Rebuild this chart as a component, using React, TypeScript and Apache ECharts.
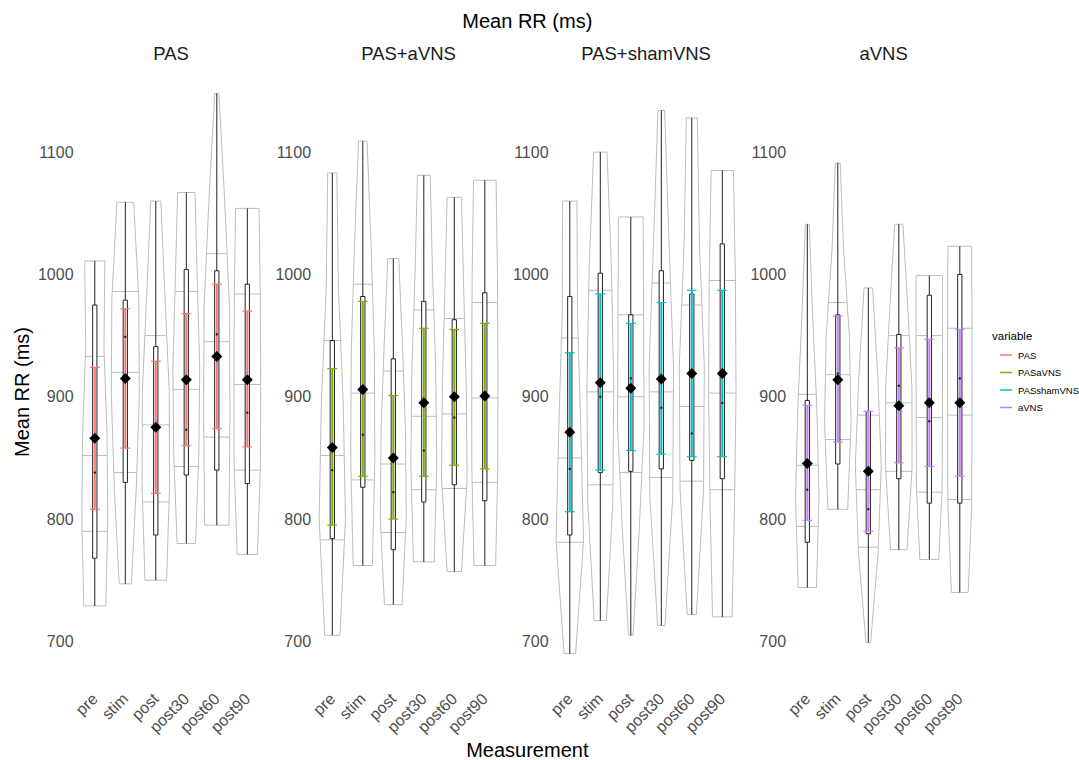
import React, { useEffect, useRef } from "react";
import * as echarts from "echarts";

const categories = ["pre", "stim", "post", "post30", "post60", "post90"];
const groups = ["PAS", "PAS+aVNS", "PAS+shamVNS", "aVNS"];
const legendKeys = ["PAS", "PASaVNS", "PASshamVNS", "aVNS"];
const groupColors = ["#F8766D", "#7CAE00", "#00BFC4", "#C77CFF"];
const yTicks = [700, 800, 900, 1000, 1100];

const violinMin = [
  [729, 747, 750, 780, 795, 771],
  [705, 762, 730, 765, 757, 762],
  [690, 717, 705, 713, 722, 720],
  [744, 808, 699, 775, 767, 740],
];
const violinMax = [
  [1011, 1059, 1060, 1067, 1148, 1054],
  [1083, 1109, 1013, 1081, 1063, 1077],
  [1060, 1100, 1047, 1134, 1128, 1085],
  [1041, 1091, 989, 1041, 999, 1023],
];
// relative violin widths at 5 evenly spaced levels from bottom to top
const violinWidths = [
  [[0.72, 0.85, 0.8, 0.6, 0.66], [0.4, 0.72, 0.92, 0.88, 0.55], [0.71, 0.9, 0.88, 0.6, 0.33], [0.6, 0.82, 0.88, 0.72, 0.57], [0.8, 0.86, 0.84, 0.52, 0.14], [0.66, 0.86, 0.88, 0.85, 0.77]],
  [[0.5, 0.86, 0.72, 0.4, 0.3], [0.63, 0.79, 0.76, 0.55, 0.28], [0.58, 0.85, 0.8, 0.6, 0.36], [0.68, 0.85, 0.78, 0.57, 0.42], [0.47, 0.84, 0.78, 0.62, 0.47], [0.71, 0.85, 0.86, 0.83, 0.74]],
  [[0.38, 0.9, 0.72, 0.5, 0.47], [0.4, 0.82, 0.88, 0.73, 0.44], [0.15, 0.55, 0.87, 0.84, 0.81], [0.24, 0.75, 0.8, 0.5, 0.22], [0.3, 0.77, 0.82, 0.5, 0.36], [0.64, 0.8, 0.9, 0.86, 0.73]],
  [[0.6, 0.77, 0.62, 0.35, 0.13], [0.65, 0.87, 0.76, 0.38, 0.16], [0.15, 0.64, 0.85, 0.62, 0.28], [0.54, 0.87, 0.86, 0.58, 0.27], [0.62, 0.84, 0.86, 0.87, 0.87], [0.55, 0.78, 0.8, 0.8, 0.78]],
];
const violinQuantiles = [
  [[790, 852, 933], [838, 920, 986], [814, 877, 950], [843, 906, 986], [867, 945, 1017], [840, 910, 984]],
  [[783, 852, 946], [832, 903, 992], [789, 845, 921], [824, 884, 971], [825, 886, 964], [830, 899, 977]],
  [[781, 850, 948], [828, 904, 987], [838, 900, 967], [834, 904, 993], [831, 892, 975], [824, 903, 995]],
  [[794, 844, 902], [865, 918, 977], [777, 824, 885], [839, 895, 950], [822, 883, 950], [816, 885, 956]],
];
const boxLow = [
  [768, 830, 787, 836, 840, 829],
  [784, 826, 775, 814, 828, 815],
  [787, 838, 839, 841, 848, 833],
  [781, 845, 788, 833, 813, 813],
];
const boxHigh = [
  [975, 979, 941, 1004, 1003, 992],
  [946, 982, 931, 978, 963, 985],
  [982, 1001, 967, 1003, 984, 1025],
  [897, 967, 888, 951, 983, 1000],
];
const errLow = [
  [808, 858, 821, 860, 874, 859],
  [795, 835, 800, 835, 844, 841],
  [806, 840, 856, 853, 851, 851],
  [799, 863, 790, 846, 843, 835],
];
const errHigh = [
  [924, 972, 929, 968, 992, 970],
  [923, 978, 901, 956, 955, 960],
  [936, 984, 960, 977, 987, 987],
  [893, 966, 888, 940, 947, 955],
];
const meanVals = [
  [866, 915, 875, 914, 933, 914],
  [858.5, 906, 850, 895, 900, 900.7],
  [871, 911.5, 907, 914.5, 919, 919],
  [845.5, 914, 839, 892.6, 895, 895],
];
const medianVals = [
  [838, 949, 876, 873, 951, 887],
  [840, 869, 822, 856, 883, 904],
  [841, 900, 915, 891, 870, 895],
  [824, 919, 808, 909, 880, 915],
];

const FONT = "'Liberation Sans', Arial, Helvetica, sans-serif";
const PANEL_LEFT0 = 76.5;
const PANEL_STEP = 237.5;
const BAND = 30.5;
const GRID_TOP = 66;
const GRID_H = 616;
const Y_MIN = 666.8;
const Y_MAX = 1170.4;

function makeRenderItem(g: number) {
  return (params: any, api: any) => {
    const i = params.dataIndex;
    const cat = api.value(0);
    const vmin = api.value(1);
    const vmax = api.value(2);
    const band = api.size([1, 0])[0];
    const cx = api.coord([cat, vmin])[0];
    const yOf = (v: number) => api.coord([cat, v])[1];
    const widths = violinWidths[g][i];
    const n = widths.length - 1;
    const halfAt = (v: number) => {
      const t = Math.max(0, Math.min(n, ((v - vmin) / (vmax - vmin)) * n));
      const k = Math.min(n - 1, Math.floor(t));
      const f = t - k;
      return ((widths[k] * (1 - f) + widths[k + 1] * f) * band) / 2;
    };
    const right: number[][] = [];
    const left: number[][] = [];
    for (let k = 0; k <= n; k++) {
      const v = vmin + ((vmax - vmin) * k) / n;
      const h = (widths[k] * band) / 2;
      right.push([cx + h, yOf(v)]);
      left.unshift([cx - h, yOf(v)]);
    }
    const grey = "#BDBDBD";
    const children: any[] = [];
    children.push({
      type: "polygon",
      shape: { points: right.concat(left) },
      style: { fill: "rgba(255,255,255,0)", stroke: grey, lineWidth: 1 },
    });
    violinQuantiles[g][i].forEach((q: number) => {
      const h = halfAt(q);
      children.push({
        type: "line",
        shape: { x1: cx - h, y1: yOf(q), x2: cx + h, y2: yOf(q) },
        style: { stroke: grey, lineWidth: 1 },
      });
    });
    children.push({
      type: "line",
      shape: { x1: cx, y1: yOf(vmin), x2: cx, y2: yOf(vmax) },
      style: { stroke: "#222", lineWidth: 1 },
    });
    const bw = band * 0.14;
    const yb1 = yOf(boxHigh[g][i]);
    const yb2 = yOf(boxLow[g][i]);
    children.push({
      type: "rect",
      shape: { x: cx - bw / 2, y: yb1, width: bw, height: yb2 - yb1 },
      style: { fill: "#fff", stroke: "#222", lineWidth: 1 },
    });
    const col = groupColors[g];
    const ye1 = yOf(errHigh[g][i]);
    const ye2 = yOf(errLow[g][i]);
    const cw = band * 0.16;
    children.push({
      type: "line",
      shape: { x1: cx, y1: ye1, x2: cx, y2: ye2 },
      style: { stroke: col, lineWidth: 2 },
    });
    children.push({
      type: "line",
      shape: { x1: cx - cw, y1: ye1, x2: cx + cw, y2: ye1 },
      style: { stroke: col, lineWidth: 1.2 },
    });
    children.push({
      type: "line",
      shape: { x1: cx - cw, y1: ye2, x2: cx + cw, y2: ye2 },
      style: { stroke: col, lineWidth: 1.2 },
    });
    const ym = yOf(medianVals[g][i]);
    children.push({
      type: "rect",
      shape: { x: cx - 1, y: ym - 1, width: 2, height: 2 },
      style: { fill: "#111" },
    });
    const yMean = yOf(meanVals[g][i]);
    const d = 5.5;
    children.push({
      type: "polygon",
      shape: { points: [[cx, yMean - d], [cx + d, yMean], [cx, yMean + d], [cx - d, yMean]] },
      style: { fill: "#000" },
    });
    return { type: "group", children };
  };
}

export default function App() {
  const ref = useRef<HTMLDivElement>(null);
  useEffect(() => {
    if (!ref.current) return;
    const chart = echarts.init(ref.current, null, { renderer: "svg" });
    const grids: any[] = [];
    const xAxes: any[] = [];
    const yAxes: any[] = [];
    const series: any[] = [];
    const graphics: any[] = [];
    groups.forEach((gname, g) => {
      const panelLeft = PANEL_LEFT0 + g * PANEL_STEP;
      grids.push({ left: panelLeft + BAND * 0.1, top: GRID_TOP, width: BAND * 6, height: GRID_H });
      xAxes.push({
        type: "category",
        gridIndex: g,
        data: categories,
        axisLine: { show: false },
        axisTick: { show: false },
        splitLine: { show: false },
        axisLabel: { rotate: 45, interval: 0, fontSize: 16, color: "#4D4D4D", margin: 14, fontFamily: FONT },
      });
      yAxes.push({
        type: "value",
        gridIndex: g,
        min: Y_MIN,
        max: Y_MAX,
        axisLine: { show: false },
        axisTick: { show: false },
        splitLine: { show: false },
        axisLabel: {
          customValues: yTicks,
          formatter: (v: number) => String(Math.round(v)),
          fontSize: 16,
          color: "#4D4D4D",
          margin: 6,
          fontFamily: FONT,
        },
      });
      series.push({
        type: "custom",
        xAxisIndex: g,
        yAxisIndex: g,
        renderItem: makeRenderItem(g),
        encode: { x: 0, y: [1, 2] },
        data: categories.map((c, i) => [i, violinMin[g][i], violinMax[g][i]]),
        silent: true,
      });
      graphics.push({
        type: "text",
        x: panelLeft + (BAND * 6.2) / 2,
        y: 53,
        style: { text: gname, fontSize: 18.5, fontFamily: FONT, fill: "#1A1A1A", align: "center", verticalAlign: "middle" },
      });
    });
    const centerX = PANEL_LEFT0 + (3 * PANEL_STEP + BAND * 6.2) / 2;
    graphics.push({
      type: "text",
      x: centerX,
      y: 21,
      style: { text: "Mean RR (ms)", fontSize: 20, fontFamily: FONT, fill: "#000", align: "center", verticalAlign: "middle" },
    });
    graphics.push({
      type: "text",
      x: centerX,
      y: 750,
      style: { text: "Measurement", fontSize: 20, fontFamily: FONT, fill: "#000", align: "center", verticalAlign: "middle" },
    });
    graphics.push({
      type: "text",
      x: 22,
      y: 392,
      rotation: Math.PI / 2,
      style: { text: "Mean RR (ms)", fontSize: 20, fontFamily: FONT, fill: "#000", align: "center", verticalAlign: "middle" },
    });
    graphics.push({
      type: "text",
      x: 992,
      y: 336,
      style: { text: "variable", fontSize: 11.5, fontFamily: FONT, fill: "#000", align: "left", verticalAlign: "middle" },
    });
    legendKeys.forEach((k, j) => {
      const y = 355 + j * 17.5;
      graphics.push({
        type: "line",
        shape: { x1: 1000, y1: y, x2: 1012, y2: y },
        style: { stroke: groupColors[j], lineWidth: 1.5 },
      });
      graphics.push({
        type: "text",
        x: 1018,
        y,
        style: { text: k, fontSize: 9.5, fontFamily: FONT, fill: "#000", align: "left", verticalAlign: "middle" },
      });
    });
    chart.setOption({
      animation: false,
      backgroundColor: "#fff",
      grid: grids,
      xAxis: xAxes,
      yAxis: yAxes,
      series,
      graphic: graphics,
    });
    return () => chart.dispose();
  }, []);
  return <div ref={ref} style={{ position: "fixed", left: 0, top: 0, width: 1079, height: 760 }} />;
}
